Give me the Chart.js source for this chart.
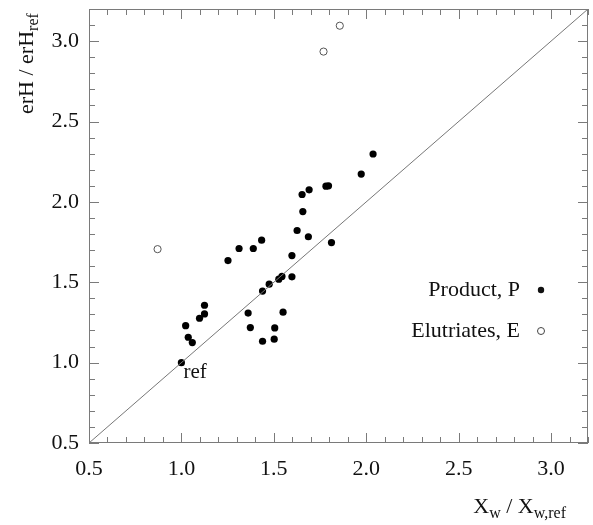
<!DOCTYPE html>
<html>
<head>
<meta charset="utf-8">
<script src="https://cdn.jsdelivr.net/npm/chart.js@4.4.1/dist/chart.umd.min.js"></script>
<style>
  html, body { margin: 0; padding: 0; background: #fff; }
  #grafica { display: block; }
</style>
</head>
<body>
<canvas id="grafica" width="593" height="525"></canvas>
<script>
// Product, P
const productoX = [1.00, 1.023, 1.037, 1.059, 1.098, 1.125, 1.125, 1.252, 1.312, 1.389, 1.434,
                   1.361, 1.373, 1.439, 1.439, 1.475, 1.505, 1.502, 1.527, 1.544, 1.550, 1.598,
                   1.598, 1.626, 1.657, 1.653, 1.691, 1.687, 1.782, 1.796, 1.812, 1.973, 2.037];
const productoY = [1.00, 1.230, 1.158, 1.125, 1.276, 1.303, 1.357, 1.635, 1.710, 1.710, 1.762,
                   1.308, 1.218, 1.133, 1.445, 1.488, 1.216, 1.146, 1.519, 1.536, 1.314, 1.534,
                   1.666, 1.822, 1.940, 2.046, 2.075, 1.783, 2.098, 2.100, 1.747, 2.173, 2.298];

// Elutriates, E
const elutriadoX = [0.871, 1.769, 1.857];
const elutriadoY = [1.706, 2.935, 3.096];

// 1:1 line
const lineaX = [0.5, 3.2];
const lineaY = [0.5, 3.2];

const ejeMin = 0.5;
const ejeMax = 3.2;

const FUENTE = '"Liberation Serif", "Times New Roman", serif';
const GRIS = '#7a7a7a';

function puntos(xs, ys) {
    return xs.map((x, i) => ({ x: x, y: ys[i] }));
}

// text with subscripts: partes = [[texto, esSub], ...]
function textoConSub(ctx, partes, x, y, alinear) {
    const grande = '22px ' + FUENTE;
    const chica = '16px ' + FUENTE;
    let ancho = 0;
    partes.forEach(p => {
        ctx.font = p[1] ? chica : grande;
        ancho += ctx.measureText(p[0]).width;
    });
    let cx = alinear === 'right' ? x - ancho : x;
    ctx.textAlign = 'left';
    ctx.textBaseline = 'alphabetic';
    partes.forEach(p => {
        ctx.font = p[1] ? chica : grande;
        ctx.fillText(p[0], cx, p[1] ? y + 5 : y);
        cx += ctx.measureText(p[0]).width;
    });
}

const marcasPlugin = {
    id: 'marcas',
    afterDraw(chart) {
        const { ctx, chartArea: a, scales } = chart;
        const sx = scales.x, sy = scales.y;
        ctx.save();
        ctx.strokeStyle = GRIS;
        ctx.lineWidth = 1;
        ctx.strokeRect(Math.round(a.left) + 0.5, Math.round(a.top) + 0.5,
                       Math.round(a.width) - 1, Math.round(a.height) - 1);

        ctx.beginPath();
        for (let i = 5; i <= 32; i++) {
            const v = i / 10;
            const largo = i % 5 === 0 ? 10 : 6;
            const px = Math.round(sx.getPixelForValue(v)) + 0.5;
            ctx.moveTo(px, a.bottom); ctx.lineTo(px, a.bottom - largo);
            ctx.moveTo(px, a.top); ctx.lineTo(px, a.top + largo);
            const py = Math.round(sy.getPixelForValue(v)) + 0.5;
            ctx.moveTo(a.left, py); ctx.lineTo(a.left + largo, py);
            ctx.moveTo(a.right, py); ctx.lineTo(a.right - largo, py);
        }
        ctx.stroke();

        ctx.fillStyle = '#111';
        // label of the reference point
        ctx.font = '21px ' + FUENTE;
        ctx.textAlign = 'left';
        ctx.textBaseline = 'alphabetic';
        ctx.fillText('ref', sx.getPixelForValue(productoX[0]) + 2, sy.getPixelForValue(productoY[0]) + 15);

        // legend
        ctx.font = '22px ' + FUENTE;
        ctx.textAlign = 'right';
        ctx.textBaseline = 'middle';
        ctx.fillText('Product, P', 520, 290);
        ctx.fillText('Elutriates, E', 520, 331);
        ctx.beginPath();
        ctx.arc(541, 290, 3.2, 0, Math.PI * 2);
        ctx.fill();
        ctx.beginPath();
        ctx.arc(541, 331, 3.5, 0, Math.PI * 2);
        ctx.strokeStyle = '#444';
        ctx.stroke();

        // axis titles
        textoConSub(ctx, [['X', false], ['w', true], [' / X', false], ['w,ref', true]], 566, 513, 'right');
        ctx.save();
        ctx.translate(33, 114);
        ctx.rotate(-Math.PI / 2);
        textoConSub(ctx, [['erH / erH', false], ['ref', true]], 0, 0, 'left');
        ctx.restore();
        ctx.restore();
    }
};

function crearGrafica() {
    const ctx = document.getElementById('grafica');

    new Chart(ctx, {
        type: 'scatter',
        data: {
            datasets: [
                {
                    label: '1:1',
                    type: 'line',
                    data: puntos(lineaX, lineaY),
                    borderColor: '#777',
                    borderWidth: 1,
                    pointRadius: 0,
                    fill: false
                },
                {
                    label: 'Product, P',
                    data: puntos(productoX, productoY),
                    backgroundColor: '#000',
                    borderColor: '#000',
                    pointRadius: 3.6,
                    borderWidth: 0
                },
                {
                    label: 'Elutriates, E',
                    data: puntos(elutriadoX, elutriadoY),
                    backgroundColor: '#fff',
                    borderColor: '#555',
                    pointRadius: 3.6,
                    borderWidth: 1
                }
            ]
        },
        options: {
            responsive: false,
            animation: false,
            events: [],
            layout: { padding: { left: 0, top: 9, right: 2, bottom: 0 } },
            plugins: {
                legend: { display: false },
                tooltip: { enabled: false }
            },
            scales: {
                x: {
                    type: 'linear',
                    min: ejeMin,
                    max: ejeMax,
                    grid: { display: false, drawTicks: false },
                    border: { display: false },
                    ticks: {
                        stepSize: 0.5,
                        includeBounds: false,
                        maxRotation: 0,
                        padding: 13,
                        color: '#111',
                        font: { family: FUENTE, size: 22 },
                        callback: v => Number(v).toFixed(1)
                    },
                    afterFit: s => { s.height = 82; s.paddingLeft = 0; s.paddingRight = 0; }
                },
                y: {
                    type: 'linear',
                    min: ejeMin,
                    max: ejeMax,
                    grid: { display: false, drawTicks: false },
                    border: { display: false },
                    ticks: {
                        stepSize: 0.5,
                        includeBounds: false,
                        padding: 10,
                        color: '#111',
                        font: { family: FUENTE, size: 22 },
                        callback: v => Number(v).toFixed(1)
                    },
                    afterFit: s => { s.width = 89; s.paddingTop = 0; s.paddingBottom = 0; }
                }
            }
        },
        plugins: [marcasPlugin]
    });
}

document.addEventListener('DOMContentLoaded', () => {
    crearGrafica();
});
</script>
</body>
</html>
